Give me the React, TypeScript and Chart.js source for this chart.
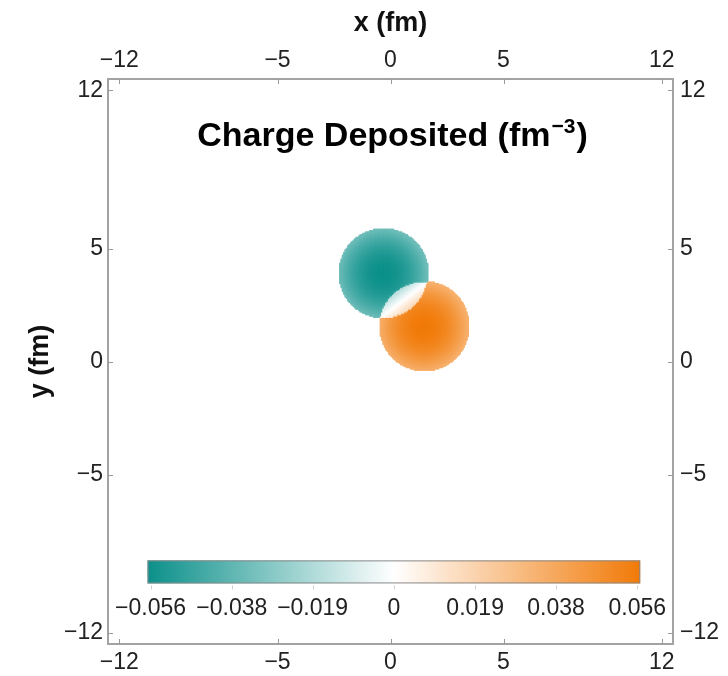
import React, { useEffect, useRef } from 'react';
import { Chart, registerables } from 'chart.js';

Chart.register(...registerables);

// ---------- data ----------
const axisTickValues = [-12, -5, 0, 5, 12];
const axisRange = [-12.5, 12.5];

// two charge sources (nucleons): centres (fm), radius (fm), peak deposited charge (fm^-3)
const sourceX = [-0.3, 1.5];
const sourceY = [3.9, 1.56];
const sourceRadius = [2.0, 2.0];
const sourcePeak = [-0.056, 0.056];
const sourceRimFraction = [0.58, 0.58];
const gridStep = 0.06;

const colorbarRange = [-0.056, 0.056];
const colorbarTickValues = [-0.056, -0.0373, -0.0187, 0, 0.0187, 0.0373, 0.056];
const colorbarTickLabels = ['\u22120.056', '\u22120.038', '\u22120.019', '0', '0.019', '0.038', '0.056'];

// ---------- styles ----------
const FONT = '"Liberation Sans", Arial, Helvetica, sans-serif';
const NEG_RGB = [12, 144, 138];
const POS_RGB = [241, 122, 8];
const TEXT = '#222222';
const FRAME = '#a3a3a3';

function colorFor(v: number): string {
  const t = Math.min(1, Math.abs(v) / colorbarRange[1]);
  const c = v < 0 ? NEG_RGB : POS_RGB;
  const r = Math.round(255 + (c[0] - 255) * t);
  const g = Math.round(255 + (c[1] - 255) * t);
  const b = Math.round(255 + (c[2] - 255) * t);
  return `rgb(${r},${g},${b})`;
}

function buildField() {
  const pts: { x: number; y: number; v: number }[] = [];
  let xMin = Infinity, xMax = -Infinity, yMin = Infinity, yMax = -Infinity;
  for (let k = 0; k < sourceX.length; k++) {
    xMin = Math.min(xMin, sourceX[k] - sourceRadius[k]);
    xMax = Math.max(xMax, sourceX[k] + sourceRadius[k]);
    yMin = Math.min(yMin, sourceY[k] - sourceRadius[k]);
    yMax = Math.max(yMax, sourceY[k] + sourceRadius[k]);
  }
  const i0 = Math.floor(xMin / gridStep) - 1, i1 = Math.ceil(xMax / gridStep) + 1;
  const j0 = Math.floor(yMin / gridStep) - 1, j1 = Math.ceil(yMax / gridStep) + 1;
  for (let i = i0; i <= i1; i++) {
    for (let j = j0; j <= j1; j++) {
      const x = i * gridStep, y = j * gridStep;
      let v = 0, inside = false;
      for (let k = 0; k < sourceX.length; k++) {
        const r = Math.hypot(x - sourceX[k], y - sourceY[k]) / sourceRadius[k];
        if (r <= 0.985) {
          inside = true;
          v += sourcePeak[k] * (1 - (1 - sourceRimFraction[k]) * r * r);
        }
      }
      if (inside) pts.push({ x, y, v });
    }
  }
  return pts;
}

const fmt = (v: number) => (v < 0 ? '\u2212' + Math.abs(v) : String(v));

const decorPlugin = {
  id: 'decor',
  afterDatasetsDraw(chart: any) {
    const ctx = chart.ctx;
    const xs = chart.scales.x, ys = chart.scales.y;
    const ca = chart.chartArea;
    ctx.save();
    // colour bar
    const left = xs.getPixelForValue(-10.75);
    const right = xs.getPixelForValue(11.05);
    const top = ys.getPixelForValue(-8.8);
    const bottom = ys.getPixelForValue(-9.82);
    const grad = ctx.createLinearGradient(left, 0, right, 0);
    const n = 40;
    for (let s = 0; s <= n; s++) {
      const f = s / n;
      const v = colorbarRange[0] + f * (colorbarRange[1] - colorbarRange[0]);
      grad.addColorStop(f, colorFor(v));
    }
    ctx.fillStyle = grad;
    ctx.fillRect(left, top, right - left, bottom - top);
    ctx.strokeStyle = '#8a8a8a';
    ctx.lineWidth = 1;
    ctx.strokeRect(left + 0.5, top + 0.5, right - left - 1, bottom - top - 1);
    ctx.font = `23px ${FONT}`;
    ctx.fillStyle = TEXT;
    ctx.textAlign = 'center';
    ctx.textBaseline = 'middle';
    for (let i = 0; i < colorbarTickValues.length; i++) {
      const f = (colorbarTickValues[i] - colorbarRange[0]) / (colorbarRange[1] - colorbarRange[0]);
      const px = left + 3 + f * (right - left - 6);
      ctx.strokeStyle = '#d0d0d0';
      ctx.beginPath();
      ctx.moveTo(Math.round(px) + 0.5, bottom + 2);
      ctx.lineTo(Math.round(px) + 0.5, bottom + 6);
      ctx.stroke();
      ctx.fillText(colorbarTickLabels[i], px, bottom + 25);
    }
    // title with superscript
    const main = 'Charge Deposited (fm';
    const sup = '\u22123';
    const close = ')';
    const fMain = `bold 34px ${FONT}`;
    const fSup = `bold 21px ${FONT}`;
    ctx.font = fMain;
    const wMain = ctx.measureText(main).width;
    const wClose = ctx.measureText(close).width;
    ctx.font = fSup;
    const wSup = ctx.measureText(sup).width;
    const total = wMain + wSup + wClose + 2;
    const cx = (ca.left + ca.right) / 2 + 2;
    const baseY = ca.top + 67;
    let x = cx - total / 2;
    ctx.textAlign = 'left';
    ctx.textBaseline = 'alphabetic';
    ctx.fillStyle = '#000';
    ctx.font = fMain;
    ctx.fillText(main, x, baseY);
    x += wMain + 1;
    ctx.font = fSup;
    ctx.fillText(sup, x, baseY - 13);
    x += wSup + 1;
    ctx.font = fMain;
    ctx.fillText(close, x, baseY);
    ctx.restore();
  },
  afterDraw(chart: any) {
    const ctx = chart.ctx;
    const ca = chart.chartArea;
    const L = 5;
    ctx.save();
    ctx.strokeStyle = '#999999';
    ctx.lineWidth = 1;
    ctx.beginPath();
    for (const v of axisTickValues) {
      const px = Math.round(chart.scales.x.getPixelForValue(v)) + 0.5;
      ctx.moveTo(px, ca.bottom);
      ctx.lineTo(px, ca.bottom - L);
      const px2 = Math.round(chart.scales.x2.getPixelForValue(v)) + 0.5;
      ctx.moveTo(px2, ca.top);
      ctx.lineTo(px2, ca.top + L);
      const py = Math.round(chart.scales.y.getPixelForValue(v)) + 0.5;
      ctx.moveTo(ca.left, py);
      ctx.lineTo(ca.left + L, py);
      const py2 = Math.round(chart.scales.y2.getPixelForValue(v)) + 0.5;
      ctx.moveTo(ca.right, py2);
      ctx.lineTo(ca.right - L, py2);
    }
    ctx.stroke();
    ctx.restore();
  },
};

function axis(position: string, size: number, pad: number, title?: string, titlePad?: number) {
  const horizontal = position === 'top' || position === 'bottom';
  return {
    type: 'linear',
    position,
    min: axisRange[0],
    max: axisRange[1],
    afterBuildTicks: (scale: any) => {
      scale.ticks = axisTickValues.map((v) => ({ value: v }));
    },
    afterFit: (scale: any) => {
      if (horizontal) scale.height = size;
      else scale.width = size;
    },
    grid: { display: false, drawTicks: false },
    border: { display: true, color: FRAME, width: 2 },
    ticks: {
      callback: (v: number) => fmt(v),
      font: { family: FONT, size: 23 },
      color: TEXT,
      padding: pad,
      maxRotation: 0,
      autoSkip: false,
    },
    title: title
      ? {
          display: true,
          text: title,
          font: { family: FONT, size: 27, weight: 'bold' },
          color: '#111',
          padding: { top: titlePad ?? 0, bottom: 0 },
        }
      : { display: false },
  };
}

export default function App() {
  const ref = useRef<HTMLCanvasElement>(null);
  useEffect(() => {
    if (!ref.current) return;
    const field = buildField();
    const chart = new Chart(ref.current, {
      type: 'scatter',
      data: {
        datasets: [
          {
            data: field as any,
            pointStyle: 'rect',
            pointRadius: 1.75,
            pointBorderWidth: 0,
            pointHoverRadius: 1.75,
            backgroundColor: (c: any) => colorFor(c.raw ? c.raw.v : 0),
            xAxisID: 'x',
            yAxisID: 'y',
          } as any,
        ],
      },
      options: {
        responsive: false,
        animation: false,
        devicePixelRatio: 1,
        events: [],
        layout: { padding: 0 },
        plugins: { legend: { display: false }, tooltip: { enabled: false } },
        scales: {
          x: axis('bottom', 32, 5),
          x2: axis('top', 79, 5, 'x (fm)', 7),
          y: axis('left', 108, 5, 'y (fm)', 24),
          y2: axis('right', 55, 7),
        } as any,
      },
      plugins: [decorPlugin],
    });
    return () => chart.destroy();
  }, []);
  return (
    <div style={{ position: 'fixed', left: 0, top: 0, width: 728, height: 676, background: '#fff' }}>
      <canvas ref={ref} width={728} height={676} style={{ display: 'block', width: 728, height: 676 }} />
    </div>
  );
}
